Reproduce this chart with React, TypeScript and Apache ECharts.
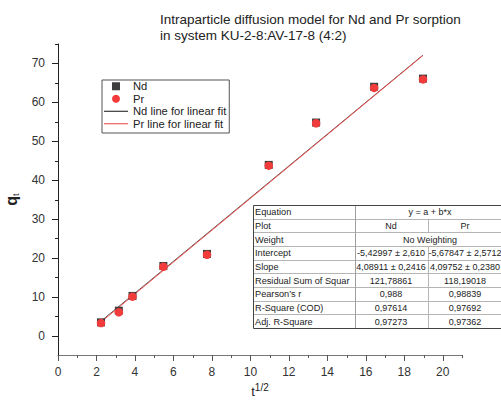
import React, { useEffect, useRef } from 'react';
import * as echarts from 'echarts';

// ---- data ----
const tHalf = [2.236, 3.162, 3.873, 5.477, 7.746, 10.954, 13.416, 16.432, 18.974];
const ndValues = [3.4, 6.4, 10.2, 17.9, 21.0, 43.9, 54.8, 64.0, 66.1];
const prValues = [3.2, 6.0, 10.0, 17.7, 20.8, 43.7, 54.6, 63.7, 65.9];

const ndIntercept = -5.42997;
const ndSlope = 4.08911;
const prIntercept = -5.67847;
const prSlope = 4.09752;

const xMajorTicks = [0, 2, 4, 6, 8, 10, 12, 14, 16, 18, 20];
const xMinorTicks = [1, 3, 5, 7, 9, 11, 13, 15, 17, 19, 21];
const yMajorTicks = [0, 10, 20, 30, 40, 50, 60, 70];
const yMinorTicks = [5, 15, 25, 35, 45, 55, 65, 75];

const tableRowLabels = ['Equation', 'Plot', 'Weight', 'Intercept', 'Slope', 'Residual Sum of Squar', 'Pearson\u2019s r', 'R-Square (COD)', 'Adj. R-Square'];
const tableNd = ['', 'Nd', '', '-5,42997 \u00b1 2,610', '4,08911 \u00b1 0,2416', '121,78861', '0,988', '0,97614', '0,97273'];
const tablePr = ['', 'Pr', '', '-5,67847 \u00b1 2,5712', '4,09752 \u00b1 0,2380', '118,19018', '0,98839', '0,97692', '0,97362'];
const tableMerged = ['y = a + b*x', '', 'No Weighting', '', '', '', '', '', ''];

const X_MIN = 0, X_MAX = 21, Y_MIN = -5, Y_MAX = 75;
const FONT = '"Liberation Sans", Arial, sans-serif';

function tickSeries(axis: 'x' | 'y', values: number[], len: number, color: string) {
  return {
    type: 'custom',
    silent: true,
    clip: false,
    z: 5,
    data: values.map((v) => (axis === 'x' ? [v, Y_MIN] : [X_MIN, v])),
    encode: { x: 0, y: 1 },
    renderItem: (_params: any, api: any) => {
      const p = api.coord([api.value(0), api.value(1)]);
      if (axis === 'x') {
        const x = Math.round(p[0]) + 0.5;
        return { type: 'line', shape: { x1: x, y1: p[1], x2: x, y2: p[1] + len }, style: { stroke: color, lineWidth: 1 } };
      }
      const y = Math.round(p[1]) + 0.5;
      return { type: 'line', shape: { x1: p[0] - len, y1: y, x2: p[0], y2: y }, style: { stroke: color, lineWidth: 1 } };
    },
  };
}

function buildTable() {
  const left = 253, top = 205, c1 = 355, c2 = 428, right = 506;
  const rowH = 123 / tableRowLabels.length;
  const els: any[] = [];
  const fs = 9;
  els.push({ type: 'rect', shape: { x: left + 0.5, y: top + 0.5, width: right - left, height: rowH * tableRowLabels.length }, style: { fill: '#fff', stroke: 'none' } });
  for (let i = 1; i < tableRowLabels.length; i++) {
    const y = Math.round(top + i * rowH) + 0.5;
    els.push({ type: 'line', shape: { x1: left, y1: y, x2: right, y2: y }, style: { stroke: '#b5b5b5', lineWidth: 1 } });
  }
  els.push({ type: 'line', shape: { x1: c1 + 0.5, y1: top, x2: c1 + 0.5, y2: top + rowH * tableRowLabels.length }, style: { stroke: '#a0a0a0', lineWidth: 1 } });
  tableRowLabels.forEach((lab, i) => {
    const y0 = top + i * rowH;
    const cy = y0 + rowH / 2 + 0.5;
    if (!tableMerged[i]) {
      els.push({ type: 'line', shape: { x1: c2 + 0.5, y1: y0, x2: c2 + 0.5, y2: y0 + rowH }, style: { stroke: '#b5b5b5', lineWidth: 1 } });
    }
    els.push({ type: 'text', x: left + 2, y: cy, style: { text: lab, fontSize: 9.2, fontFamily: FONT, fill: '#222', textVerticalAlign: 'middle', textAlign: 'left' } });
    if (tableMerged[i]) {
      els.push({ type: 'text', x: 430, y: cy, style: { text: tableMerged[i], fontSize: fs, fontFamily: FONT, fill: '#222', textVerticalAlign: 'middle', textAlign: 'center' } });
    } else {
      els.push({ type: 'text', x: 391, y: cy, style: { text: tableNd[i], fontSize: fs, fontFamily: FONT, fill: '#222', textVerticalAlign: 'middle', textAlign: 'center' } });
      els.push({ type: 'text', x: 465, y: cy, style: { text: tablePr[i], fontSize: fs, fontFamily: FONT, fill: '#222', textVerticalAlign: 'middle', textAlign: 'center' } });
    }
  });
  els.push({ type: 'rect', shape: { x: left + 0.5, y: top + 0.5, width: right - left, height: rowH * tableRowLabels.length }, style: { fill: 'none', stroke: '#444', lineWidth: 1 } });
  return { type: 'group', z: 100, children: els };
}

const LINE_ICON = 'path://M0,0h24v1h-24z';
const SQUARE_ICON = 'path://M0,0h8v8h-8z';

export default function App() {
  const ref = useRef<HTMLDivElement>(null);
  useEffect(() => {
    document.body.style.margin = '0';
    const chart = echarts.init(ref.current!, null, { renderer: 'svg' });
    const xFirst = tHalf[0];
    const xLast = tHalf[tHalf.length - 1];
    chart.setOption({
      animation: false,
      backgroundColor: '#fff',
      textStyle: { fontFamily: FONT },
      title: {
        text: 'Intraparticle diffusion model for Nd and Pr sorption\nin system KU-2-8:AV-17-8 (4:2)',
        left: 160,
        top: 11,
        padding: 0,
        textStyle: { fontSize: 13.5, fontWeight: 'normal', color: '#222', lineHeight: 16.5, fontFamily: FONT },
      },
      legend: {
        left: 102,
        top: 80,
        orient: 'vertical',
        padding: [0, 3, 3, 2],
        itemWidth: 24,
        itemHeight: 8,
        itemGap: 0,
        symbolKeepAspect: true,
        borderColor: '#555',
        borderWidth: 1,
        textStyle: { fontSize: 11.2, lineHeight: 12.5, color: '#222', fontFamily: FONT },
        data: [
          { name: 'Nd', icon: SQUARE_ICON },
          { name: 'Pr', icon: 'circle' },
          { name: 'Nd line for linear fit', icon: LINE_ICON },
          { name: 'Pr line for linear fit', icon: LINE_ICON },
        ],
      },
      grid: { left: 58, top: 44, right: 39, bottom: 45, containLabel: false, outerBoundsMode: 'none' },
      xAxis: {
        type: 'value',
        min: X_MIN,
        max: X_MAX,
        interval: 1,
        name: '{t|t}{s|1/2}',
        nameLocation: 'middle',
        nameGap: 25,
        nameTextStyle: {
          rich: {
            t: { fontSize: 13, lineHeight: 18, color: '#222', fontFamily: FONT },
            s: { fontSize: 10, lineHeight: 7, verticalAlign: 'top', color: '#222', fontFamily: FONT },
          },
        },
        axisLine: { show: true, onZero: false, lineStyle: { color: '#777', width: 1 } },
        axisTick: { show: false },
        splitLine: { show: false },
        axisLabel: {
          margin: 11,
          fontSize: 12,
          color: '#333',
          fontFamily: FONT,
          formatter: (v: number) => (v % 2 === 0 && v <= 20 ? String(v) : ''),
        },
      },
      yAxis: {
        type: 'value',
        min: Y_MIN,
        max: Y_MAX,
        interval: 5,
        name: '{q|q}{t|t}',
        nameLocation: 'middle',
        nameGap: 30,
        nameTextStyle: {
          rich: {
            q: { fontSize: 16, fontWeight: 'bold', lineHeight: 18, color: '#222', fontFamily: FONT },
            t: { fontSize: 9, lineHeight: 9, verticalAlign: 'bottom', color: '#222', fontFamily: FONT },
          },
        },
        axisLine: { show: true, onZero: false, lineStyle: { color: '#222', width: 1 } },
        axisTick: { show: false },
        splitLine: { show: false },
        axisLabel: {
          margin: 13,
          fontSize: 12,
          color: '#333',
          fontFamily: FONT,
          formatter: (v: number) => (v % 10 === 0 && v >= 0 ? String(v) : ''),
        },
      },
      series: [
        tickSeries('x', xMajorTicks, 6, '#555'),
        tickSeries('x', xMinorTicks, 3, '#555'),
        tickSeries('y', yMajorTicks, 6, '#222'),
        tickSeries('y', yMinorTicks, 3, '#222'),
        {
          name: 'Nd line for linear fit',
          type: 'line',
          symbol: 'none',
          z: 3,
          lineStyle: { color: '#333', width: 0.8 },
          itemStyle: { color: '#111' },
          data: [
            [xFirst, ndIntercept + ndSlope * xFirst],
            [xLast, ndIntercept + ndSlope * xLast],
          ],
        },
        {
          name: 'Pr line for linear fit',
          type: 'line',
          symbol: 'none',
          z: 4,
          lineStyle: { color: '#ee4a48', width: 1 },
          itemStyle: { color: '#e8413f' },
          data: [
            [xFirst, prIntercept + prSlope * xFirst],
            [xLast, prIntercept + prSlope * xLast],
          ],
        },
        {
          name: 'Nd',
          type: 'scatter',
          symbol: 'rect',
          symbolSize: 8,
          z: 6,
          itemStyle: { color: '#3d3d3d', opacity: 1 },
          data: tHalf.map((x, i) => [x, ndValues[i]]),
        },
        {
          name: 'Pr',
          type: 'scatter',
          symbol: 'circle',
          symbolSize: 8.5,
          z: 7,
          itemStyle: { color: '#f23c3c', opacity: 1 },
          data: tHalf.map((x, i) => [x, prValues[i]]),
        },
      ],
      graphic: [buildTable()],
    });
    return () => chart.dispose();
  }, []);
  return <div ref={ref} style={{ position: 'absolute', left: 0, top: 0, width: 501, height: 400 }} />;
}
